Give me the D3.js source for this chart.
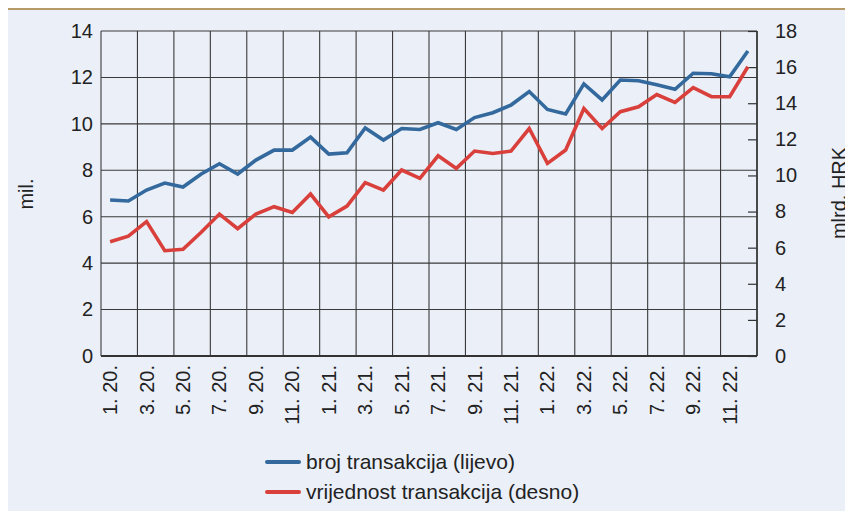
<!DOCTYPE html>
<html>
<head>
<meta charset="utf-8">
<title>broj i vrijednost transakcija</title>
<script src="https://d3js.org/d3.v7.min.js"></script>
<style>
  body { margin: 0; background: #fff; }
  text { font-family: "Liberation Sans", Arial, sans-serif; fill: #222; }
</style>
</head>
<body>
<script>
// mjeseci 1.2020 - 12.2022
var months = [];
["20", "21", "22"].forEach(function(y) {
  for (var m = 1; m <= 12; m++) months.push(m + ". " + y + ".");
});

// broj transakcija, mil. (lijevo)
var broj = [6.72, 6.68, 7.15, 7.45, 7.28, 7.84, 8.28, 7.84, 8.44, 8.87, 8.87, 9.43,
            8.70, 8.75, 9.82, 9.30, 9.80, 9.76, 10.05, 9.76, 10.27, 10.48, 10.81, 11.39,
            10.62, 10.43, 11.72, 11.03, 11.89, 11.86, 11.68, 11.49, 12.18, 12.16, 12.03, 13.14];

// vrijednost transakcija, mlrd. HRK (desno)
var vrijednost = [6.33, 6.64, 7.44, 5.83, 5.91, 6.85, 7.86, 7.05, 7.86, 8.27, 7.95, 8.97,
                  7.71, 8.30, 9.60, 9.19, 10.30, 9.84, 11.09, 10.39, 11.35, 11.22, 11.35, 12.60,
                  10.67, 11.41, 13.71, 12.60, 13.53, 13.80, 14.48, 14.04, 14.86, 14.36, 14.36, 16.02];

var leftTicks = [0, 2, 4, 6, 8, 10, 12, 14];
var rightTicks = [0, 2, 4, 6, 8, 10, 12, 14, 16, 18];

var W = 845, H = 511;
var margin = {top: 31, right: 88, bottom: 155, left: 101};

var svg = d3.select("body").append("svg")
    .attr("width", W)
    .attr("height", H);

// pozadina i gornja linija
svg.append("rect").attr("x", 8).attr("y", 9).attr("width", W - 8).attr("height", H - 9)
    .attr("fill", "#eaeff8");
svg.append("line").attr("x1", 8).attr("x2", W).attr("y1", 9).attr("y2", 9)
    .attr("stroke", "#b8996a").attr("stroke-width", 2);

var x = d3.scaleBand().domain(months).range([margin.left, W - margin.right]);
var yL = d3.scaleLinear().domain([0, 14]).range([H - margin.bottom, margin.top]);
var yR = d3.scaleLinear().domain([0, 18]).range([H - margin.bottom, margin.top]);

var g = svg.append("g");

// mreza - vertikalno svaka dva mjeseca
var vx = months.filter(function(d, i) { return i % 2 === 0; }).map(function(d) { return x(d); });
vx.push(x.range()[1]);
g.selectAll(".vgrid").data(vx).enter().append("line")
    .attr("x1", function(d) { return d; }).attr("x2", function(d) { return d; })
    .attr("y1", yL(14)).attr("y2", yL(0))
    .attr("stroke", "#3a3a3a").attr("stroke-width", 1.1);

g.selectAll(".hgrid").data(leftTicks).enter().append("line")
    .attr("x1", x.range()[0]).attr("x2", x.range()[1])
    .attr("y1", function(d) { return yL(d); }).attr("y2", function(d) { return yL(d); })
    .attr("stroke", "#3a3a3a").attr("stroke-width", 1.1);

// okvir
g.append("line").attr("x1", x.range()[0]).attr("x2", x.range()[1])
    .attr("y1", yL(0)).attr("y2", yL(0)).attr("stroke", "#333").attr("stroke-width", 2);
g.append("line").attr("x1", x.range()[1]).attr("x2", x.range()[1])
    .attr("y1", yL(0)).attr("y2", yL(14)).attr("stroke", "#333").attr("stroke-width", 1.5);

// lijeva os
var axL = svg.append("g")
    .attr("transform", "translate(" + margin.left + ",0)")
    .call(d3.axisLeft(yL).tickValues(leftTicks).tickSize(0).tickPadding(8));
axL.select(".domain").remove();
axL.selectAll("text").style("font-size", "20px").attr("fill", "#222");

// desna os
var axR = svg.append("g")
    .attr("transform", "translate(" + (W - margin.right) + ",0)")
    .call(d3.axisRight(yR).tickValues(rightTicks).tickSize(-9).tickPadding(18));
axR.select(".domain").remove();
axR.selectAll("line").attr("stroke", "#333").attr("stroke-width", 1.2);
axR.selectAll("text").style("font-size", "20px").attr("fill", "#222");

// x os
var axX = svg.append("g")
    .attr("transform", "translate(0," + (H - margin.bottom) + ")")
    .call(d3.axisBottom(x).tickValues(months.filter(function(d, i) { return i % 2 === 0; }))
        .tickSize(0).tickPadding(0));
axX.select(".domain").remove();
axX.selectAll("text")
    .style("font-size", "20px")
    .attr("fill", "#222")
    .attr("text-anchor", "end")
    .attr("transform", "translate(0,9) rotate(-90)")
    .attr("x", 0).attr("y", 0).attr("dy", "0.35em");

// nazivi osi
svg.append("text")
    .attr("transform", "translate(33,194) rotate(-90)")
    .attr("text-anchor", "middle")
    .style("font-size", "20px")
    .text("mil.");
svg.append("text")
    .attr("transform", "translate(846,193) rotate(-90)")
    .attr("text-anchor", "middle")
    .style("font-size", "20px")
    .text("mlrd. HRK");

// linije
var lineL = d3.line()
    .x(function(d, i) { return x(months[i]) + x.bandwidth() / 2; })
    .y(function(d) { return yL(d); });
var lineR = d3.line()
    .x(function(d, i) { return x(months[i]) + x.bandwidth() / 2; })
    .y(function(d) { return yR(d); });

svg.append("path").datum(vrijednost)
    .attr("d", lineR).attr("fill", "none")
    .attr("stroke", "#d9403b").attr("stroke-width", 3.6);
svg.append("path").datum(broj)
    .attr("d", lineL).attr("fill", "none")
    .attr("stroke", "#33699d").attr("stroke-width", 3.6);

// legenda
var legend = [
  {name: "broj transakcija (lijevo)", color: "#33699d"},
  {name: "vrijednost transakcija (desno)", color: "#d9403b"}
];
var lg = svg.selectAll(".leg").data(legend).enter().append("g")
    .attr("transform", function(d, i) { return "translate(267," + (462 + i * 30) + ")"; });
lg.append("line").attr("x1", 0).attr("x2", 32).attr("y1", 0).attr("y2", 0)
    .attr("stroke", function(d) { return d.color; }).attr("stroke-width", 4)
    .attr("stroke-linecap", "round");
lg.append("text").attr("x", 39).attr("dy", "0.35em")
    .style("font-size", "21px")
    .text(function(d) { return d.name; });
</script>
</body>
</html>
